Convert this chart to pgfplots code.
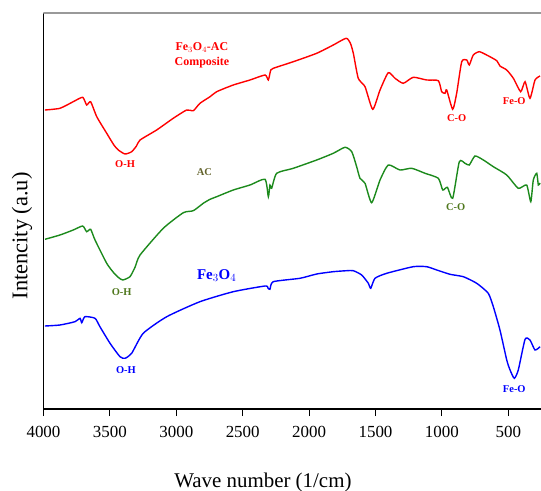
\documentclass[border=0pt]{standalone}
\usepackage{pgfplots}
\pgfplotsset{compat=1.18}
\usepackage{fontspec}
\setmainfont{Liberation Serif}
\definecolor{cred}{RGB}{255,0,0}
\definecolor{cgreen}{RGB}{28,138,28}
\definecolor{cblue}{RGB}{0,0,255}
\definecolor{colive}{RGB}{100,100,45}
\definecolor{cgreenlab}{RGB}{80,120,30}
\begin{document}
\begin{tikzpicture}
\useasboundingbox (-43.5bp,-82bp) rectangle (497.5bp,409bp);
\begin{axis}[
  scale only axis, width=497.5bp, height=396bp,
  x dir=reverse, xmin=254, xmax=4000, ymin=0, ymax=396,
  axis x line*=bottom, axis y line*=left,
  axis line style={-, black, line width=1.3bp},
  xtick={500,1000,...,4000}, ytick=\empty,
  tick align=outside, major tick length=7bp,
  xtick style={black, line width=1bp},
  /pgf/number format/assume math mode=true,
  /pgf/number format/1000 sep={},
  xticklabel style={font=\fontsize{17}{20}\selectfont, yshift=-7bp},
  xlabel={Wave number (1/cm)},
  xlabel style={at={(axis description cs:0.441,0)}, anchor=center, yshift=-73bp, font=\fontsize{21}{24}\selectfont},
  ylabel={Intencity (a.u)},
  ylabel style={at={(axis description cs:-0.0432,0.437)}, anchor=center, font=\fontsize{22.5}{26}\selectfont},
  clip=true,
  every axis plot/.append style={smooth, tension=0.35, line width=1.4bp},
]
\draw[gray!80, line width=1.6bp] (rel axis cs:0,1) -- (rel axis cs:1,1);
% Fe3O4-AC composite
\addplot[cred] table {
3989 299
3876 300.7
3776 307.3
3705 311.7
3675 304
3645 307.3
3599 292.3
3524 275.7
3470 264
3437 259
3386 255
3336 257.3
3300 263
3273 269
3148 279
3023 290.7
2922 299
2872 298.3
2822 305.7
2746 312.3
2696 317.3
2571 324
2445 329
2332 334
2307 329
2289 339
2270 340.7
2119 347.3
1943 355.7
1818 364
1722 370.7
1690 366
1667 355.7
1630 330.7
1579 322.3
1521 299.7
1466 319
1404 336.3
1353 330.7
1291 325.7
1216 331.7
1115 329
1027 328.3
1002 317.3
977 315.7
964 319
919 299.7
889 315.7
851 347.3
813 349
794 344
764 354
719 357.3
663 354
587 348.3
563 343
512 339
462 330.7
407 317.3
374 327.3
337 310.7
299 329
261 333
};
% AC
\addplot[cgreen] table {
3989 169.7
3876 174
3776 179
3705 183
3675 177.3
3645 179.7
3612 169
3524 145.7
3470 136
3437 131.7
3404 129
3349 132.3
3310 142
3273 154
3098 180.7
2947 196.3
2872 198.3
2797 205.7
2746 209.7
2696 212.3
2571 219
2445 224
2332 229.7
2307 212.3
2295 224
2282 220.7
2244 235.7
2119 240.7
1943 249
1818 255.7
1730 261.7
1679 257.3
1642 242.3
1617 230.7
1579 225.7
1529 206.3
1466 229
1404 244
1316 239
1228 240.7
1127 235.7
1027 230.7
994 219
959 221.7
919 210.7
869 247.3
826 245.7
794 244
751 253
688 249
613 242.3
512 234
425 220.7
362 224
331 207.3
312 229
286 235.7
274 224
261 226
};
% Fe3O4
\addplot[cblue] table {
3989 83
3876 84
3763 87.3
3725 90.7
3712 86.3
3688 92.3
3612 90.7
3575 82.3
3499 65.7
3424 52.3
3386 50.7
3336 55.7
3249 75.7
3072 92.3
2822 107.3
2571 117.3
2332 123
2310 121
2295 119.7
2270 127.3
2069 130.7
1943 135
1818 137.3
1717 138.3
1667 138.3
1604 134
1554 125.7
1536 120.7
1504 130.7
1416 135.7
1216 142.3
1115 142.3
1039 139
939 134.7
839 132.3
738 125.7
651 115.7
613 102.3
563 79
512 49
487 39
455 30.7
425 39
374 69.7
337 69
299 59
261 62.3
};
% annotations
\node[cred, font=\bfseries\fontsize{12}{15}\selectfont, align=center] at (axis cs:2807,354) {Fe$_3$O$_4$-AC\\Composite};
\node[cred, font=\bfseries\fontsize{10.5}{12}\selectfont] at (axis cs:3386,244.7) {O-H};
\node[colive, font=\bfseries\fontsize{10.5}{12}\selectfont] at (axis cs:2789,236.7) {AC};
\node[cgreenlab, font=\bfseries\fontsize{10.5}{12}\selectfont] at (axis cs:3411,116.7) {O-H};
\node[cblue, font=\bfseries\fontsize{15}{17}\selectfont] at (axis cs:2696,133.3) {Fe$_3$O$_4$};
\node[cblue, font=\bfseries\fontsize{10.5}{12}\selectfont] at (axis cs:3379,39) {O-H};
\node[cred, font=\bfseries\fontsize{10.5}{12}\selectfont] at (axis cs:889,290.7) {C-O};
\node[cred, font=\bfseries\fontsize{10.5}{12}\selectfont] at (axis cs:455,308) {Fe-O};
\node[cgreenlab, font=\bfseries\fontsize{10.5}{12}\selectfont] at (axis cs:896,202.3) {C-O};
\node[cblue, font=\bfseries\fontsize{10.5}{12}\selectfont] at (axis cs:455,20) {Fe-O};
\end{axis}
\end{tikzpicture}
\end{document}
